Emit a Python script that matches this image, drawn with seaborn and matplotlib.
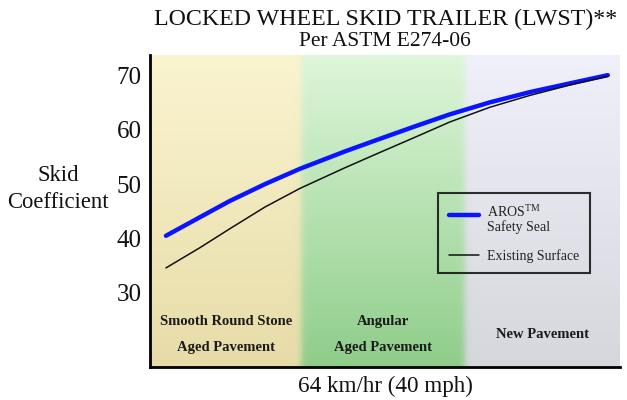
import numpy as np
import pandas as pd
import matplotlib
matplotlib.use("Agg")
import matplotlib.pyplot as plt
from matplotlib.legend_handler import HandlerLine2D
import seaborn as sns

# ---- data ----
speed_pos = [3.4, 10.6, 17.0, 24.5, 31.9, 41.5, 48.9, 56.4, 63.8, 72.3, 80.9, 89.4, 97.4]
aros = [40.5, 43.9, 46.9, 50.0, 52.8, 56.0, 58.3, 60.6, 62.8, 65.0, 66.9, 68.5, 70.0]
existing = [34.6, 38.3, 41.8, 45.8, 49.2, 53.0, 55.8, 58.6, 61.4, 64.1, 66.3, 68.2, 69.8]
series_names = ["AROS$^{\\mathrm{TM}}$\nSafety Seal", "Existing Surface"]
region_edges = [0, 32.2, 67.0, 100]
region_labels = ["Smooth Round Stone\n\nAged Pavement", "Angular\n\nAged Pavement", "New Pavement"]
yticks = [30, 40, 50, 60, 70]

sns.set_theme(style="white")
plt.rcParams["font.family"] = ["Liberation Serif", "DejaVu Serif"]
plt.rcParams["mathtext.fontset"] = "custom"
plt.rcParams["mathtext.rm"] = "Liberation Serif"

fig = plt.figure(figsize=(6.27, 4.0), dpi=100)
ax = fig.add_axes([150 / 627, 33 / 400, 470 / 627, 312 / 400])

ylo, yhi = 16.4, 73.7
xlo, xhi = 0, 100

# background gradient panels
top_cols = np.array([[250, 244, 208], [222, 246, 217], [240, 240, 250]]) / 255
bot_cols = np.array([[231, 220, 168], [143, 205, 138], [214, 214, 221]]) / 255
nx, ny = 600, 200
xs = np.linspace(xlo, xhi, nx)
w = np.zeros((3, nx))
b1, b2 = region_edges[1], region_edges[2]
s1 = 0.5 * (1 + np.tanh((xs - b1) / 0.8))
s2 = 0.5 * (1 + np.tanh((xs - b2) / 0.8))
w[0] = 1 - s1
w[1] = s1 - s2
w[2] = s2
t = np.linspace(0, 1, ny)[:, None, None]  # 0 top, 1 bottom
top_row = np.einsum("rx,rc->xc", w, top_cols)[None, :, :]
bot_row = np.einsum("rx,rc->xc", w, bot_cols)[None, :, :]
img = top_row * (1 - t) + bot_row * t
ax.imshow(img, extent=[xlo, xhi, ylo, yhi], aspect="auto", origin="upper", zorder=0)

df = pd.DataFrame({
    "x": speed_pos * 2,
    "y": aros + existing,
    "series": [series_names[0]] * len(aros) + [series_names[1]] * len(existing),
})
sns.lineplot(data=df, x="x", y="y", hue="series", size="series",
             palette=["#0a14ff", "#111111"], sizes=[3.2, 1.1],
             ax=ax, zorder=3, legend=True, solid_joinstyle="round", solid_capstyle="round")

ax.set_xlim(xlo, xhi)
ax.set_ylim(ylo, yhi)
ax.set_yticks(yticks)
ax.set_yticklabels([str(v) for v in yticks], fontsize=18, color="#111111")
ax.set_xticks([])
ax.tick_params(axis="y", length=0, pad=6)
for s in ["top", "right"]:
    ax.spines[s].set_visible(False)
for s in ["left", "bottom"]:
    ax.spines[s].set_color("black")
    ax.spines[s].set_linewidth(2)
ax.set_xlabel("64 km/hr (40 mph)", fontsize=16.7, labelpad=6, color="#111111")
ax.set_ylabel("")

# region labels
for i, lab in enumerate(region_labels):
    cx = (region_edges[i] + region_edges[i + 1]) / 2
    ax.text(cx, 22.3, lab, ha="center", va="center", fontsize=10.5,
            fontweight="bold", color="#1a1a1a", linespacing=1.0, zorder=4)


class RaisedLine(HandlerLine2D):
    """Line handle aligned with the first text line of a two-line label."""
    def create_artists(self, legend, orig_handle, xdescent, ydescent, width, height, fontsize, trans):
        return super().create_artists(legend, orig_handle, xdescent, ydescent - 5.5,
                                      width, height, fontsize, trans)


# legend
handles, labels = ax.get_legend_handles_labels()
leg = ax.legend(handles, labels, loc="upper left", bbox_to_anchor=(0.613, 0.558),
                borderaxespad=0, frameon=True, fancybox=False, fontsize=10,
                handlelength=2.2, labelspacing=1.12, borderpad=0.75, handletextpad=0.6,
                handler_map={handles[0]: RaisedLine()}, title=None)
leg.get_frame().set_edgecolor("black")
leg.get_frame().set_linewidth(1.5)
leg.get_frame().set_facecolor("none")
leg.set_zorder(5)
for txt in leg.get_texts():
    txt.set_color("#222222")
    txt.set_linespacing(1.0)

# titles
fig.text(386 / 627, 1 - 19 / 400, "LOCKED WHEEL SKID TRAILER (LWST)**", ha="center", va="center",
         fontsize=17.2, color="#111111")
fig.text(385 / 627, 1 - 42 / 400, "Per ASTM E274-06", ha="center", va="center", fontsize=15.5,
         color="#111111")
fig.text(58 / 627, 1 - 189 / 400, "Skid\nCoefficient", ha="center", va="center", fontsize=16.3,
         linespacing=1.4, color="#111111")

fig.savefig("out.png", dpi=100)
